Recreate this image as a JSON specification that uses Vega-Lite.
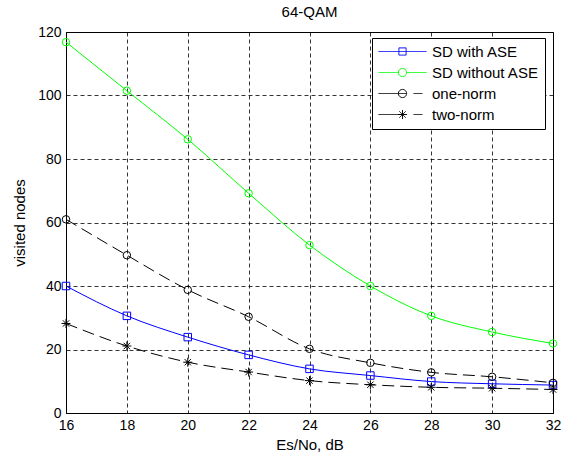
{
  "$schema": "https://vega.github.io/schema/vega-lite/v6.json",
  "width": 487,
  "height": 381,
  "autosize": {"type": "none"},
  "padding": {"left": 66, "top": 32, "right": 19, "bottom": 45},
  "background": "white",
  "title": {"text": "64-QAM", "font": "Liberation Sans", "fontSize": 15, "fontWeight": "normal", "color": "black", "offset": 5},
  "config": {
    "view": {"stroke": "black", "strokeWidth": 1},
    "axis": {
      "labelFont": "Liberation Sans", "labelFontSize": 14, "labelColor": "black",
      "titleFont": "Liberation Sans", "titleFontSize": 15, "titleFontWeight": "normal", "titleColor": "black",
      "domainColor": "black", "domainWidth": 1,
      "ticks": false,
      "grid": true, "gridColor": "black", "gridOpacity": 1, "gridDash": [4, 3], "gridWidth": 0.8
    }
  },
  "data": {
    "values": [
      {"snr": 16, "series": "SD with ASE", "v": 40.0},
      {"snr": 18, "series": "SD with ASE", "v": 30.6},
      {"snr": 20, "series": "SD with ASE", "v": 23.9},
      {"snr": 22, "series": "SD with ASE", "v": 18.3},
      {"snr": 24, "series": "SD with ASE", "v": 13.9},
      {"snr": 26, "series": "SD with ASE", "v": 11.8},
      {"snr": 28, "series": "SD with ASE", "v": 9.9},
      {"snr": 30, "series": "SD with ASE", "v": 9.2},
      {"snr": 32, "series": "SD with ASE", "v": 8.8},
      {"snr": 16, "series": "SD without ASE", "v": 116.8},
      {"snr": 18, "series": "SD without ASE", "v": 101.5},
      {"snr": 20, "series": "SD without ASE", "v": 86.2},
      {"snr": 22, "series": "SD without ASE", "v": 69.2},
      {"snr": 24, "series": "SD without ASE", "v": 52.9},
      {"snr": 26, "series": "SD without ASE", "v": 40.0},
      {"snr": 28, "series": "SD without ASE", "v": 30.6},
      {"snr": 30, "series": "SD without ASE", "v": 25.5},
      {"snr": 32, "series": "SD without ASE", "v": 21.9},
      {"snr": 16, "series": "one-norm", "v": 61.0},
      {"snr": 18, "series": "one-norm", "v": 49.7},
      {"snr": 20, "series": "one-norm", "v": 38.8},
      {"snr": 22, "series": "one-norm", "v": 30.3},
      {"snr": 24, "series": "one-norm", "v": 20.2},
      {"snr": 26, "series": "one-norm", "v": 15.8},
      {"snr": 28, "series": "one-norm", "v": 12.8},
      {"snr": 30, "series": "one-norm", "v": 11.4},
      {"snr": 32, "series": "one-norm", "v": 9.5},
      {"snr": 16, "series": "two-norm", "v": 28.2},
      {"snr": 18, "series": "two-norm", "v": 21.1},
      {"snr": 20, "series": "two-norm", "v": 16.0},
      {"snr": 22, "series": "two-norm", "v": 12.9},
      {"snr": 24, "series": "two-norm", "v": 10.2},
      {"snr": 26, "series": "two-norm", "v": 8.9},
      {"snr": 28, "series": "two-norm", "v": 8.1},
      {"snr": 30, "series": "two-norm", "v": 7.8},
      {"snr": 32, "series": "two-norm", "v": 7.4}
    ]
  },
  "encoding": {
    "x": {
      "field": "snr", "type": "quantitative",
      "scale": {"domain": [16, 32], "nice": false, "zero": false},
      "axis": {"values": [16, 18, 20, 22, 24, 26, 28, 30, 32], "title": "Es/No, dB", "labelPadding": 5, "titlePadding": 5, "labelFlush": false}
    },
    "y": {
      "field": "v", "type": "quantitative",
      "scale": {"domain": [0, 120], "nice": false},
      "axis": {"values": [0, 20, 40, 60, 80, 100, 120], "title": "visited nodes", "labelPadding": 5, "titlePadding": 10}
    },
    "color": {
      "field": "series", "type": "nominal",
      "scale": {"domain": ["SD with ASE", "SD without ASE", "one-norm", "two-norm"], "range": ["#0000ff", "#00ff00", "#000000", "#000000"]},
      "legend": {
        "title": null, "orient": "none", "legendX": 306, "legendY": 6,
        "strokeColor": "black", "fillColor": "white", "padding": 6,
        "symbolSize": 2304, "symbolStrokeWidth": 1, "symbolDash": [1, 0], "symbolType": "circle",
        "labelFont": "Liberation Sans", "labelFontSize": 15, "labelColor": "black", "labelOffset": 5,
        "clipHeight": 15,
        "rowPadding": 5,
        "encode": {
          "symbols": {
            "update": {
              "shape": {"signal": "datum.value === 'SD with ASE' ? 'M-1,0H1M-0.15,-0.15H0.15V0.15H-0.15Z' : datum.value === 'SD without ASE' ? 'M-1,0H-0.17M0.17,0H1M0.17,0A0.17,0.17 0 1,1 -0.17,0A0.17,0.17 0 1,1 0.17,0' : datum.value === 'one-norm' ? 'M-1,0H0.17M0.17,0A0.17,0.17 0 1,1 -0.17,0A0.17,0.17 0 1,1 0.17,0M0.46,0H0.83' : 'M-1,0H0.1M0,-0.19V0.19M-0.19,0H0.19M-0.13,-0.13L0.13,0.13M-0.13,0.13L0.13,-0.13M0.46,0H0.83'"},
              "strokeDash": {"value": [1, 0]},
              "fill": {"value": "transparent"},
              "size": {"value": 2304}
            }
          }
        }
      }
    }
  },
  "layer": [
    {
      "transform": [{"filter": {"field": "series", "oneOf": ["SD with ASE", "SD without ASE"]}}],
      "mark": {"type": "line", "interpolate": "monotone", "strokeWidth": 1}
    },
    {
      "transform": [{"filter": {"field": "series", "oneOf": ["one-norm", "two-norm"]}}],
      "mark": {"type": "line", "interpolate": "monotone", "strokeWidth": 1, "strokeDash": [12, 6]}
    },
    {
      "transform": [{"filter": {"field": "series", "equal": "SD with ASE"}}],
      "mark": {"type": "point", "shape": "square", "filled": false, "strokeWidth": 1, "opacity": 1, "size": 56}
    },
    {
      "transform": [{"filter": {"field": "series", "oneOf": ["SD without ASE", "one-norm"]}}],
      "mark": {"type": "point", "shape": "circle", "filled": false, "strokeWidth": 1, "opacity": 1, "size": 56}
    },
    {
      "transform": [{"filter": {"field": "series", "equal": "two-norm"}}],
      "mark": {"type": "point", "shape": "M0,-1.2V1.2M-1.2,0H1.2M-0.85,-0.85L0.85,0.85M-0.85,0.85L0.85,-0.85", "filled": false, "strokeWidth": 1, "opacity": 1, "size": 56}
    }
  ]
}
